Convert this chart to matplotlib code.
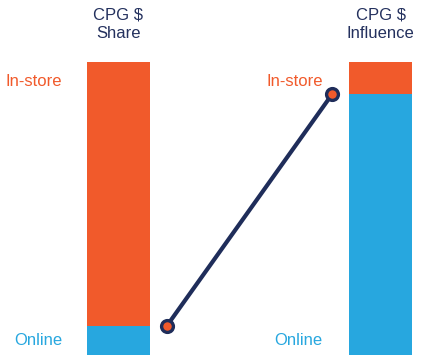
import matplotlib
matplotlib.use('Agg')
import matplotlib.pyplot as plt
from matplotlib import font_manager

names = {f.name for f in font_manager.fontManager.ttflist}
fam = 'Liberation Sans Narrow' if 'Liberation Sans Narrow' in names else 'Liberation Sans'
plt.rcParams['font.family'] = [fam, 'DejaVu Sans']

# data
columns = ['CPG $\nShare', 'CPG $\nInfluence']
online = [10, 89]
instore = [90, 11]

ORANGE = '#f15a2b'
BLUE = '#27a7df'
NAVY = '#1f2d5a'

fig = plt.figure(figsize=(4.32, 3.61), dpi=100)
ax = fig.add_axes([0, 6 / 361, 1, 293 / 361])
x = [0, 1]
w = 0.24
ax.bar(x, online, width=w, color=BLUE)
ax.bar(x, instore, width=w, bottom=online, color=ORANGE)
ax.set_xlim(-0.452, 1.196)
ax.set_ylim(0, 100)
ax.axis('off')

# connector between online values
off = w / 2 + 0.065
ax.plot([x[0] + off, x[1] - off], [online[0], online[1]], color=NAVY, lw=3,
        solid_capstyle='round', zorder=3)
ax.plot([x[0] + off, x[1] - off], [online[0], online[1]], 'o', ms=8.5,
        mfc=ORANGE, mec=NAVY, mew=2.4, zorder=4)

for xi, t in zip(x, columns):
    ax.text(xi, 1.13, t, transform=ax.get_xaxis_transform(), ha='center',
            va='center', fontsize=12, color='#24315e', linespacing=1.3)

fs = 12
ax.text(-0.215, 93.5, 'In-store', ha='right', va='center', fontsize=fs, color=ORANGE)
ax.text(-0.215, 5.1, 'Online', ha='right', va='center', fontsize=fs, color=BLUE)
ax.text(0.78, 93.5, 'In-store', ha='right', va='center', fontsize=fs, color=ORANGE)
ax.text(0.776, 5.1, 'Online', ha='right', va='center', fontsize=fs, color=BLUE)

fig.savefig('out.png', dpi=100)
